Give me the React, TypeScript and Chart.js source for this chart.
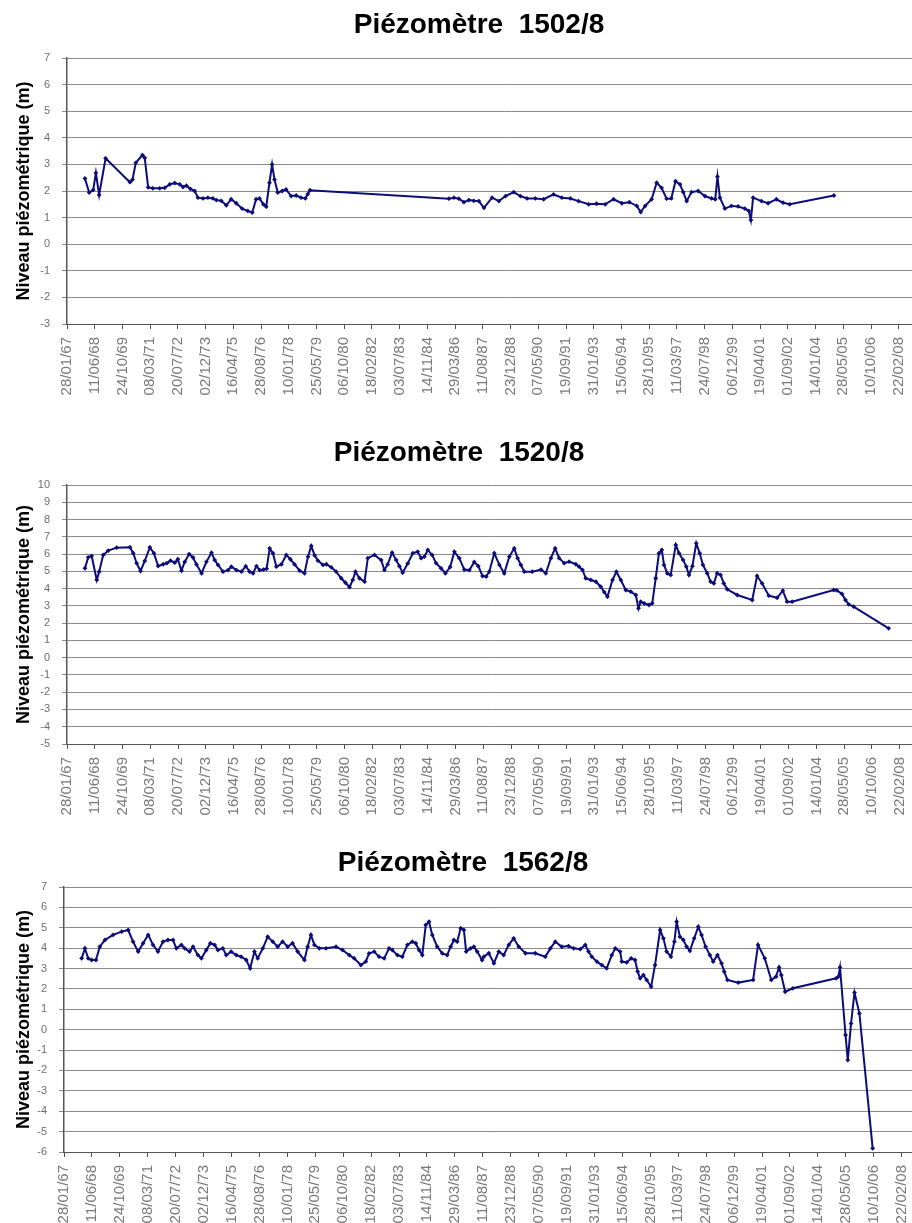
import React, { useEffect, useRef } from "react";
import { Chart, registerables } from "chart.js";

Chart.register(...registerables);

// ---- x axis (Excel date axis starting 28/01/67, 500-day major unit) ----
const AXIS_START_YEAR = 1967.074; // 28/01/1967 as a decimal year
const X_STEP_DAYS = 500;
const xTickLabels = [
  "28/01/67", "11/06/68", "24/10/69", "08/03/71", "20/07/72", "02/12/73", "16/04/75", "28/08/76",
  "10/01/78", "25/05/79", "06/10/80", "18/02/82", "03/07/83", "14/11/84", "29/03/86", "11/08/87",
  "23/12/88", "07/05/90", "19/09/91", "31/01/93", "15/06/94", "28/10/95", "11/03/97", "24/07/98",
  "06/12/99", "19/04/01", "01/09/02", "14/01/04", "28/05/05", "10/10/06", "22/02/08",
];

// ---- Piézomètre 1502/8 ----
const p1502Years = [
  1967.96, 1968.17, 1968.37, 1968.5, 1968.66, 1968.98, 1970.18, 1970.31, 1970.47, 1970.8,
  1970.91, 1971.08, 1971.31, 1971.65, 1971.9, 1972.15, 1972.39, 1972.64, 1972.8, 1972.97,
  1973.16, 1973.38, 1973.54, 1973.79, 1974.03, 1974.28, 1974.45, 1974.69, 1974.94, 1975.18,
  1975.43, 1975.72, 1976.0, 1976.22, 1976.41, 1976.58, 1976.77, 1976.91, 1977.07, 1977.2,
  1977.32, 1977.48, 1977.7, 1977.89, 1978.14, 1978.39, 1978.63, 1978.84, 1978.96, 1979.07,
  1985.93, 1986.18, 1986.42, 1986.67, 1986.92, 1987.16, 1987.41, 1987.66, 1988.06, 1988.4,
  1988.73, 1989.13, 1989.46, 1989.79, 1990.2, 1990.61, 1991.1, 1991.51, 1991.93, 1992.33,
  1992.83, 1993.22, 1993.65, 1994.06, 1994.47, 1994.84, 1995.21, 1995.4, 1995.62, 1995.94,
  1996.19, 1996.43, 1996.68, 1996.91, 1997.12, 1997.34, 1997.5, 1997.67, 1997.91, 1998.24,
  1998.57, 1998.9, 1999.08, 1999.19, 1999.31, 1999.56, 1999.88, 2000.21, 2000.54, 2000.74,
  2000.84, 2000.95, 2001.36, 2001.69, 2002.1, 2002.43, 2002.76, 2004.94,
];
const p1502Levels = [
  2.47, 1.94, 2.04, 2.68, 1.85, 3.23, 2.33, 2.43, 3.06, 3.35,
  3.25, 2.14, 2.1, 2.1, 2.12, 2.25, 2.3, 2.25, 2.15, 2.2,
  2.08, 2.0, 1.75, 1.72, 1.75, 1.72, 1.66, 1.63, 1.46, 1.69,
  1.54, 1.34, 1.25, 1.19, 1.69, 1.72, 1.5, 1.41, 2.31, 3.0,
  2.43, 1.94, 2.0, 2.06, 1.81, 1.83, 1.75, 1.72, 1.88, 2.03,
  1.71, 1.75, 1.71, 1.58, 1.66, 1.63, 1.62, 1.37, 1.75, 1.62,
  1.81, 1.96, 1.81, 1.72, 1.72, 1.69, 1.87, 1.75, 1.72, 1.62,
  1.5, 1.52, 1.5, 1.69, 1.54, 1.58, 1.44, 1.21, 1.44, 1.69,
  2.31, 2.12, 1.71, 1.72, 2.37, 2.25, 1.96, 1.62, 1.96, 2.0,
  1.81, 1.72, 1.69, 2.54, 1.75, 1.34, 1.44, 1.42, 1.34, 1.25,
  0.91, 1.75, 1.62, 1.54, 1.69, 1.56, 1.5, 1.83,
];

// ---- Piézomètre 1520/8 ----
const p1520Years = [
  1967.96, 1968.12, 1968.29, 1968.54, 1968.66, 1968.86, 1969.11, 1969.52, 1970.18, 1970.34,
  1970.51, 1970.7, 1970.91, 1971.16, 1971.36, 1971.57, 1971.82, 1972.0, 1972.18, 1972.39,
  1972.54, 1972.72, 1972.88, 1973.1, 1973.29, 1973.46, 1973.71, 1973.95, 1974.2, 1974.36,
  1974.52, 1974.77, 1975.02, 1975.18, 1975.43, 1975.68, 1975.89, 1976.08, 1976.25, 1976.42,
  1976.58, 1976.77, 1976.92, 1977.07, 1977.23, 1977.4, 1977.65, 1977.89, 1978.09, 1978.3,
  1978.55, 1978.79, 1978.96, 1979.12, 1979.29, 1979.45, 1979.7, 1979.87, 1980.11, 1980.35,
  1980.6, 1980.81, 1981.01, 1981.17, 1981.3, 1981.5, 1981.75, 1981.91, 1982.24, 1982.57,
  1982.73, 1982.89, 1983.11, 1983.31, 1983.47, 1983.63, 1983.88, 1984.13, 1984.37, 1984.54,
  1984.7, 1984.87, 1985.08, 1985.28, 1985.52, 1985.74, 1985.97, 1986.18, 1986.42, 1986.67,
  1986.92, 1987.16, 1987.36, 1987.57, 1987.75, 1987.9, 1988.15, 1988.4, 1988.64, 1988.89,
  1989.13, 1989.3, 1989.46, 1989.63, 1990.02, 1990.45, 1990.69, 1990.94, 1991.15, 1991.35,
  1991.6, 1991.84, 1992.17, 1992.33, 1992.5, 1992.66, 1992.91, 1993.16, 1993.4, 1993.57,
  1993.73, 1993.98, 1994.17, 1994.39, 1994.63, 1994.88, 1995.13, 1995.26, 1995.37, 1995.54,
  1995.78, 1995.94, 1996.11, 1996.27, 1996.41, 1996.52, 1996.68, 1996.85, 1997.1, 1997.26,
  1997.46, 1997.62, 1997.75, 1997.92, 1998.11, 1998.28, 1998.44, 1998.65, 1998.82, 1998.98,
  1999.14, 1999.31, 1999.47, 1999.64, 2000.13, 2000.87, 2001.11, 2001.36, 2001.69, 2002.1,
  2002.38, 2002.59, 2002.84, 2004.89, 2005.04, 2005.3, 2005.47, 2005.63, 2005.87, 2007.6,
];
const p1520Levels = [
  5.18, 5.81, 5.89, 4.5, 4.98, 5.95, 6.2, 6.37, 6.4, 6.05,
  5.47, 5.02, 5.6, 6.39, 6.05, 5.31, 5.41, 5.47, 5.62, 5.5,
  5.7, 5.04, 5.54, 6.0, 5.8, 5.4, 4.89, 5.55, 6.08, 5.65,
  5.37, 4.98, 5.07, 5.27, 5.07, 4.98, 5.3, 4.98, 4.89, 5.3,
  5.07, 5.1, 5.15, 6.33, 6.05, 5.27, 5.41, 5.95, 5.7, 5.4,
  5.04, 4.89, 5.85, 6.47, 5.92, 5.62, 5.37, 5.41, 5.23, 4.98,
  4.6, 4.34, 4.08, 4.5, 4.98, 4.6, 4.4, 5.76, 5.95, 5.65,
  5.08, 5.4, 6.08, 5.65, 5.3, 4.92, 5.45, 6.05, 6.14, 5.76,
  5.85, 6.24, 5.95, 5.47, 5.18, 4.89, 5.25, 6.14, 5.76, 5.1,
  5.07, 5.54, 5.3, 4.73, 4.7, 4.98, 6.05, 5.37, 4.89, 5.85,
  6.33, 5.76, 5.37, 4.98, 4.98, 5.1, 4.89, 5.76, 6.33, 5.76,
  5.47, 5.56, 5.41, 5.27, 5.08, 4.6, 4.5, 4.4, 4.11, 3.8,
  3.53, 4.5, 4.98, 4.5, 3.92, 3.82, 3.63, 2.86, 3.24, 3.15,
  3.05, 3.15, 4.6, 6.05, 6.24, 5.37, 4.89, 4.79, 6.53, 6.05,
  5.66, 5.27, 4.79, 5.3, 6.62, 6.05, 5.37, 4.89, 4.4, 4.3,
  4.89, 4.79, 4.3, 3.96, 3.63, 3.34, 4.73, 4.3, 3.59, 3.47,
  3.88, 3.24, 3.24, 3.92, 3.9, 3.69, 3.34, 3.09, 2.96, 1.7,
];

// ---- Piézomètre 1562/8 ----
const p1562Years = [
  1967.94, 1968.1, 1968.26, 1968.43, 1968.64, 1968.83, 1969.08, 1969.48, 1969.9, 1970.22,
  1970.46, 1970.71, 1970.95, 1971.2, 1971.44, 1971.68, 1971.93, 1972.17, 1972.42, 1972.58,
  1972.83, 1972.99, 1973.23, 1973.4, 1973.64, 1973.81, 1974.05, 1974.25, 1974.46, 1974.62,
  1974.86, 1975.03, 1975.27, 1975.52, 1975.76, 1976.01, 1976.2, 1976.41, 1976.57, 1976.82,
  1977.06, 1977.31, 1977.55, 1977.79, 1978.04, 1978.28, 1978.53, 1978.86, 1979.02, 1979.18,
  1979.35, 1979.59, 1979.92, 1980.41, 1980.73, 1981.06, 1981.3, 1981.63, 1981.87, 1982.03,
  1982.28, 1982.52, 1982.77, 1983.01, 1983.17, 1983.42, 1983.66, 1983.91, 1984.15, 1984.32,
  1984.48, 1984.64, 1984.81, 1984.97, 1985.13, 1985.37, 1985.62, 1985.86, 1986.03, 1986.19,
  1986.35, 1986.52, 1986.68, 1986.79, 1987.01, 1987.17, 1987.33, 1987.57, 1987.66, 1987.9,
  1988.15, 1988.39, 1988.63, 1988.88, 1989.12, 1989.37, 1989.7, 1990.18, 1990.67, 1990.92,
  1991.16, 1991.48, 1991.81, 1992.06, 1992.38, 1992.63, 1992.79, 1992.95, 1993.2, 1993.44,
  1993.68, 1993.93, 1994.1, 1994.34, 1994.42, 1994.66, 1994.88, 1995.07, 1995.2, 1995.32,
  1995.48, 1995.64, 1995.86, 1996.05, 1996.3, 1996.46, 1996.62, 1996.83, 1997.0, 1997.11,
  1997.27, 1997.44, 1997.6, 1997.76, 1997.97, 1998.17, 1998.33, 1998.53, 1998.74, 1998.9,
  1999.11, 1999.31, 1999.44, 1999.6, 2000.13, 2000.86, 2001.1, 2001.43, 2001.75, 2001.98,
  2002.13, 2002.24, 2002.43, 2002.81, 2004.93, 2005.04, 2005.12, 2005.39, 2005.5, 2005.66,
  2005.83, 2006.07, 2006.72,
];
const p1562Levels = [
  3.5, 3.99, 3.5, 3.42, 3.42, 4.07, 4.4, 4.65, 4.81, 4.89,
  4.32, 3.83, 4.24, 4.65, 4.16, 3.83, 4.32, 4.4, 4.4, 3.99,
  4.16, 3.99, 3.83, 4.07, 3.66, 3.5, 3.91, 4.24, 4.16, 3.91,
  3.99, 3.66, 3.83, 3.66, 3.58, 3.42, 3.01, 3.83, 3.5, 3.99,
  4.56, 4.32, 4.07, 4.32, 4.07, 4.24, 3.83, 3.42, 4.07, 4.65,
  4.16, 3.99, 3.99, 4.07, 3.91, 3.66, 3.5, 3.17, 3.34, 3.74,
  3.83, 3.58, 3.5, 3.99, 3.91, 3.66, 3.58, 4.16, 4.32, 4.24,
  3.91, 3.66, 5.14, 5.3, 4.65, 4.07, 3.74, 3.66, 4.07, 4.4,
  4.32, 4.98, 4.89, 3.83, 3.99, 4.07, 3.83, 3.42, 3.58, 3.75,
  3.26, 3.83, 3.66, 4.16, 4.48, 4.07, 3.75, 3.75, 3.58, 3.99,
  4.32, 4.07, 4.1, 3.99, 3.95, 4.16, 3.83, 3.58, 3.34, 3.17,
  3.01, 3.66, 3.99, 3.83, 3.34, 3.3, 3.5, 3.42, 2.85, 2.52,
  2.68, 2.44, 2.11, 3.17, 4.89, 4.48, 3.83, 3.58, 4.32, 5.3,
  4.56, 4.4, 4.07, 3.87, 4.48, 5.05, 4.65, 4.07, 3.66, 3.34,
  3.66, 3.26, 2.85, 2.44, 2.31, 2.44, 4.16, 3.5, 2.44, 2.6,
  3.06, 2.68, 1.86, 2.03, 2.52, 2.6, 3.06, -0.26, -1.49, 0.3,
  1.82, 0.8, -5.82,
];

const FONT = "'Liberation Sans', Arial, Helvetica, sans-serif";
const LINE_COLOR = "#0c0c7a";

function yearToDays(yr: number): number {
  return (yr - AXIS_START_YEAR) * 365.25;
}

type Spec = {
  title: string;
  years: number[];
  levels: number[];
  yMin: number;
  yMax: number;
  top: number;
  height: number;
  canvasWidth: number;
  titleCenter: number;
  plotTop: number;
  plotBottom: number;
  plotLeft: number;
  lastTickX: number;
};

const PAGE_W = 912;
const PAGE_H = 1223;
const TITLE_SIZE = 28;
const TITLE_LH = 1.2;

const specs: Spec[] = [
  { title: "Piézomètre  1502/8", years: p1502Years, levels: p1502Levels, yMin: -3, yMax: 7,
    top: 0, height: 408, canvasWidth: 958, titleCenter: 25, plotTop: 58, plotBottom: 324, plotLeft: 67, lastTickX: 901 },
  { title: "Piézomètre  1520/8", years: p1520Years, levels: p1520Levels, yMin: -5, yMax: 10,
    top: 410, height: 410, canvasWidth: 918, titleCenter: 43, plotTop: 75, plotBottom: 334, plotLeft: 67, lastTickX: 902 },
  { title: "Piézomètre  1562/8", years: p1562Years, levels: p1562Levels, yMin: -6, yMax: 7,
    top: 820, height: 420, canvasWidth: 926, titleCenter: 43, plotTop: 67, plotBottom: 332, plotLeft: 64, lastTickX: 904 },
];

function PiezoChart({ spec }: { spec: Spec }) {
  const ref = useRef<HTMLCanvasElement | null>(null);
  useEffect(() => {
    if (!ref.current) return;
    const lastTickDays = (xTickLabels.length - 1) * X_STEP_DAYS;
    const xMax = ((spec.canvasWidth - spec.plotLeft) / (spec.lastTickX - spec.plotLeft)) * lastTickDays;
    const tickValues = xTickLabels.map((_, i) => i * X_STEP_DAYS);
    const titleBox = TITLE_SIZE * TITLE_LH;
    const points = spec.years.map((yr, i) => ({ x: yearToDays(yr), y: spec.levels[i] }));
    const chart = new Chart(ref.current, {
      type: "line",
      data: {
        datasets: [
          {
            data: points,
            borderColor: LINE_COLOR,
            backgroundColor: LINE_COLOR,
            borderWidth: 2,
            pointStyle: "rectRot",
            pointRadius: 2.4,
            pointBorderWidth: 0,
            pointHoverRadius: 2.4,
            tension: 0,
          },
        ],
      },
      options: {
        animation: false,
        responsive: true,
        maintainAspectRatio: false,
        layout: { padding: { top: spec.titleCenter - titleBox / 2, left: 0, right: 0, bottom: 0 } },
        plugins: {
          legend: { display: false },
          tooltip: { enabled: false },
          title: {
            display: true,
            text: spec.title,
            color: "#000",
            font: { family: FONT, size: TITLE_SIZE, weight: "bold", lineHeight: TITLE_LH },
            padding: { top: 0, bottom: spec.plotTop - spec.titleCenter - titleBox / 2 },
          },
        },
        scales: {
          x: {
            type: "linear",
            min: 0,
            max: xMax,
            afterBuildTicks: (scale: any) => {
              scale.ticks = tickValues.map((v) => ({ value: v }));
            },
            afterFit: (scale: any) => {
              scale.height = spec.height - spec.plotBottom;
              scale.paddingLeft = 0;
              scale.paddingRight = 0;
            },
            ticks: {
              autoSkip: false,
              minRotation: 90,
              maxRotation: 90,
              padding: 8,
              color: "#7a7a7a",
              font: { family: FONT, size: 15 },
              callback: (_v: any, index: number) => xTickLabels[index],
            },
            grid: { drawOnChartArea: false, drawTicks: true, tickLength: 5, color: "#555" },
            border: { display: true, color: "#555", width: 1 },
          },
          y: {
            min: spec.yMin,
            max: spec.yMax,
            afterFit: (scale: any) => {
              scale.width = spec.plotLeft;
              scale.paddingTop = 0;
              scale.paddingBottom = 0;
            },
            ticks: {
              stepSize: 1,
              padding: 12,
              color: "#6e6e6e",
              font: { family: FONT, size: 11 },
            },
            grid: { color: "#8a8a8a", lineWidth: 1, tickLength: 5, drawTicks: true },
            border: { display: true, color: "#555", width: 1.5 },
            title: {
              display: true,
              text: "Niveau piézométrique (m)",
              color: "#000",
              font: { family: FONT, size: 18, weight: "bold" },
              padding: { top: 13, bottom: 0 },
            },
          },
        },
      },
    });
    return () => chart.destroy();
  }, [spec]);
  return (
    <div style={{ position: "absolute", left: 0, top: spec.top, width: spec.canvasWidth, height: spec.height }}>
      <canvas ref={ref} />
    </div>
  );
}

export default function App() {
  return (
    <div
      style={{
        position: "absolute",
        left: 0,
        top: 0,
        width: PAGE_W,
        height: PAGE_H,
        overflow: "hidden",
        background: "#fff",
      }}
    >
      {specs.map((s) => (
        <PiezoChart key={s.title} spec={s} />
      ))}
    </div>
  );
}
